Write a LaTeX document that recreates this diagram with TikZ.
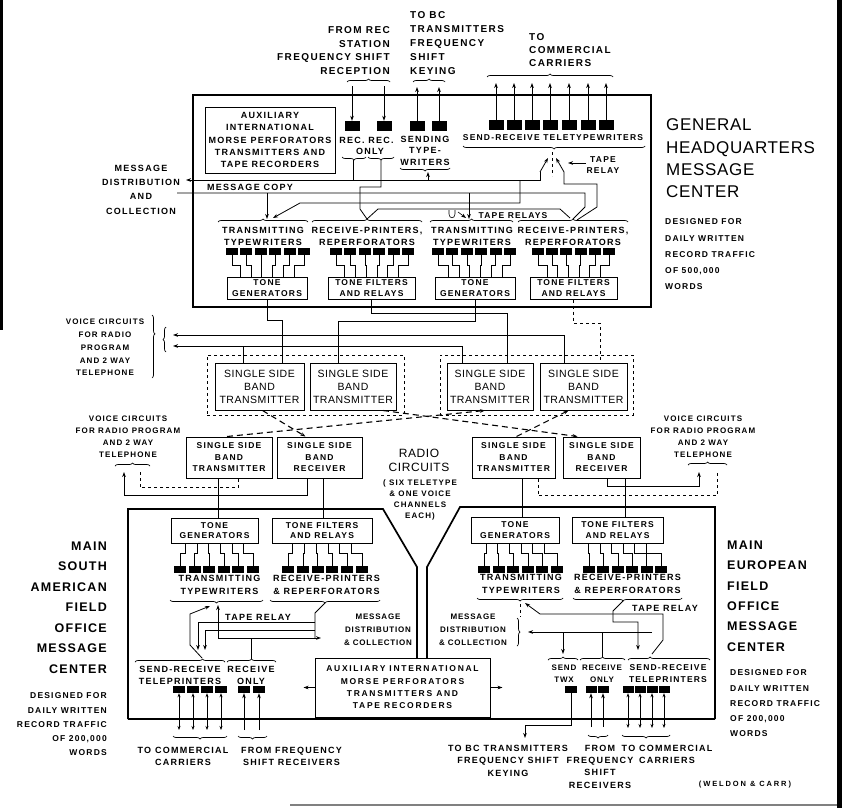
\documentclass[tikz,border=0pt]{standalone}
\usepackage{fontspec}
\setmainfont{Liberation Sans}
\newfontfamily\fa[LetterSpace=10]{Liberation Sans}
\newfontfamily\fb[LetterSpace=4]{Liberation Sans}
\newfontfamily\fc[LetterSpace=14]{Liberation Sans}
\newfontfamily\fd[LetterSpace=5]{Liberation Sans}
\newfontfamily\fe[LetterSpace=25]{Liberation Sans}
\newfontfamily\ff[LetterSpace=20]{Liberation Sans}
\newcommand\fsz[2]{\fontsize{#1}{#2}\selectfont}
\usetikzlibrary{decorations.pathreplacing,arrows.meta,calc}
\tikzset{
  lb/.style={inner sep=0pt, align=center, font=\fc\bfseries\fsz{9}{12}},
  bigo/.style={draw, line width=1.7pt},
  box/.style={draw, line width=1pt, inner sep=0pt, align=center},
  tbox/.style={box, font=\fc\bfseries\fsz{8.5}{10.5}},
  blk/.style={fill=black, inner sep=0pt, minimum width=12pt, minimum height=7pt},
  blkb/.style={fill=black, inner sep=0pt, minimum width=15pt, minimum height=10pt},
  wr/.style={line width=0.8pt},
  tw/.style={line width=0.6pt},
  arw/.style={->, >={Stealth[length=5pt,width=3.6pt]}},
  arwb/.style={<->, >={Stealth[length=4pt,width=3pt]}},
  brc/.style={decorate, decoration={brace, amplitude=3pt, aspect=#1}, line width=0.7pt},
  brc/.default=0.5,
  rdash/.style={line width=1.1pt, dash pattern=on 6pt off 4pt},
}
\begin{document}
\begin{tikzpicture}[x=1pt,y=-1pt]
\useasboundingbox (0,0) rectangle (843,808);
% scan borders
\fill (837,0) rectangle (842,808);
\fill (0,0) rectangle (3,330);
\draw[gray, line width=2pt] (290,805) -- (837,805);

% ================= HEADQUARTERS =================
\node[bigo, minimum width=458pt, minimum height=212pt, inner sep=0pt] (hq) at (422,201) {};
\node[box, minimum width=130pt, minimum height=66pt, font=\fc\bfseries\fsz{9}{12.3}] (auxh) at (270,140)
  {AUXILIARY\\INTERNATIONAL\\MORSE PERFORATORS\\TRANSMITTERS AND\\TAPE RECORDERS};

% top labels
\node[inner sep=0pt, anchor=east, align=right, font=\fc\bfseries\fsz{10}{13.7}] (lfrom) at (390,50.5)
  {FROM REC\\STATION\\FREQUENCY SHIFT\\RECEPTION};
\node[inner sep=0pt, anchor=west, align=left, font=\fc\bfseries\fsz{10}{14}] (ltobc) at (410,43)
  {TO BC\\TRANSMITTERS\\FREQUENCY\\SHIFT\\KEYING};
\node[inner sep=0pt, anchor=west, align=left, font=\fc\bfseries\fsz{10}{13}] (ltocom) at (529,50)
  {TO\\COMMERCIAL\\CARRIERS};
\draw[brc] (347,82) -- (390,82);
\draw[brc] (413,82) -- (445,82);
\draw[brc] (487,77) -- (613,77);

% top blocks
\node[blkb] (rc1) at (352,126) {};
\node[blkb] (rc2) at (384,126) {};
\node[blkb] (sd1) at (417,126) {};
\node[blkb] (sd2) at (439,126) {};
\draw[wr, arw] (352,86) -- (rc1.north);
\draw[wr, arw] (384,86) -- (rc2.north);
\draw[wr, arw] (sd1.north) -- (417,87);
\draw[wr, arw] (sd2.north) -- (439,87);
\foreach \x [count=\i] in {496,514,532,550,569,588,606}{
  \node[blkb] (st\i) at (\x,125) {};
  \draw[wr, arw] (st\i.north) -- (\x,83);
}
\node[lb] (lrec1) at (352,140) {REC.};
\node[lb] (lrec2) at (381,140) {REC.};
\node[lb] (lonly) at (370,151) {ONLY};
\draw[brc] (366,157) -- (342,157);
\draw[brc] (394,157) -- (368,157);
\node[lb, font=\fc\bfseries\fsz{9}{11.5}] (lsend) at (425,150.5) {SENDING\\TYPE-\\WRITERS};
\draw[brc] (450,168) -- (400,168);
\node[lb, font=\fc\bfseries\fsz{8.5}{12}] (lsrt) at (553,138) {SEND-RECEIVE TELETYPEWRITERS};
\draw[brc] (645,146) -- (463,146);

% left label
\node[lb, font=\fc\bfseries\fsz{9}{14.3}] (lmdh) at (141,189.5) {MESSAGE\\DISTRIBUTION\\AND\\COLLECTION};
\node[lb] (lcopy) at (250,187) {MESSAGE COPY};

% HQ wiring
\draw[wr] (353,160) -- (353,180);
\draw[wr] (381,160) -- (381,187) -- (360,187) -- (360,209) -- (367,219);
\draw[wr, arw] (540,172) -- (540,180) -- (186,180);
\draw[wr] (177,193) -- (585,193) -- (585,207) -- (573,219);
\draw[wr, arw] (267,193) -- (267,219);
\draw[wr, arw] (520,180) -- (520,203) -- (300,203) -- (273,218);
\draw[wr] (367,219) -- (378,209) -- (560,209) -- (570,218);
\draw[wr, arw] (469,193) -- (469,219);
\draw[wr, arw] (428,180) -- (428,172);
\draw[wr, arw] (540,172) -- (548,158);
\draw[wr, arw] (564,172) -- (556,158);
\draw[wr, dashed] (552,152) -- (552,176);
\draw[wr] (564,172) -- (564,184) -- (597,184) -- (597,207) -- (577,220);
\node[lb, font=\fc\bfseries\fsz{8.5}{10.5}] (ltrh) at (603,165) {TAPE\\RELAY};
\draw[wr, arw] (586,163) -- (568,163);
\node[lb, font=\fc\bfseries\fsz{8.5}{12}] (ltrs) at (513,216) {TAPE RELAYS};
\draw[tw] (449,210) -- (449,214) .. controls (449,219) and (455,219) .. (455,214) -- (455,210);
\draw[tw, arw] (458,212) -- (466,218);

% HQ groups
\draw[brc] (218,222) -- (308,222);
\node[lb] (ltt1) at (263,236) {TRANSMITTING\\TYPEWRITERS};
\node[tbox, minimum width=80pt, minimum height=22pt] (tg1) at (267,288) {TONE\\GENERATORS};
\foreach \i in {0,...,5}{
  \pgfmathsetmacro\xs{232+14.4*\i}
  \pgfmathsetmacro\xb{267+(\xs-268)*0.75}
  \node[blk] (ha\i) at (\xs,251.5) {};
  \draw[tw] (ha\i.south) -- (\xs,265) -- (\xb,265) -- (\xb,277);
}
\draw[brc] (312,222) -- (422,222);
\node[lb] (lrp2) at (367,236) {RECEIVE-PRINTERS,\\REPERFORATORS};
\node[tbox, minimum width=87pt, minimum height=22pt] (tf2) at (371.5,288) {TONE FILTERS\\AND RELAYS};
\foreach \i in {0,...,5}{
  \pgfmathsetmacro\xs{336+14.4*\i}
  \pgfmathsetmacro\xb{371.5+(\xs-372)*0.75}
  \node[blk] (hb\i) at (\xs,251.5) {};
  \draw[tw] (hb\i.south) -- (\xs,265) -- (\xb,265) -- (\xb,277);
}
\draw[brc] (430,222) -- (513,222);
\node[lb] (ltt3) at (472,236) {TRANSMITTING\\TYPEWRITERS};
\node[tbox, minimum width=80pt, minimum height=22pt] (tg3) at (475,288) {TONE\\GENERATORS};
\foreach \i in {0,...,5}{
  \pgfmathsetmacro\xs{438+14.4*\i}
  \pgfmathsetmacro\xb{475+(\xs-474)*0.75}
  \node[blk] (hc\i) at (\xs,251.5) {};
  \draw[tw] (hc\i.south) -- (\xs,265) -- (\xb,265) -- (\xb,277);
}
\draw[brc] (518,222) -- (628,222);
\node[lb] (lrp4) at (573,236) {RECEIVE-PRINTERS,\\REPERFORATORS};
\node[tbox, minimum width=87pt, minimum height=22pt] (tf4) at (573.5,288) {TONE FILTERS\\AND RELAYS};
\foreach \i in {0,...,5}{
  \pgfmathsetmacro\xs{538+14.2*\i}
  \pgfmathsetmacro\xb{573.5+(\xs-573.5)*0.75}
  \node[blk] (hd\i) at (\xs,251.5) {};
  \draw[tw] (hd\i.south) -- (\xs,265) -- (\xb,265) -- (\xb,277);
}

% HQ headings
\node[inner sep=0pt, anchor=west, align=left, font=\fb\fsz{17}{22.3}] (hqt) at (666,158.5)
  {GENERAL\\HEADQUARTERS\\MESSAGE\\CENTER};
\node[inner sep=0pt, anchor=west, align=left, font=\fc\bfseries\fsz{8.5}{16.25}] (hqd) at (665,254.5)
  {DESIGNED FOR\\DAILY WRITTEN\\RECORD TRAFFIC\\OF 500,000\\WORDS};

% ================= UPPER TRANSMITTERS =================
\node[draw, dashed, line width=0.8pt, inner sep=0pt, minimum width=197pt, minimum height=60pt] (encl) at (305.5,385) {};
\node[draw, dashed, line width=0.8pt, inner sep=0pt, minimum width=193pt, minimum height=60pt] (encr) at (536.5,385) {};
\node[box, minimum width=89pt, minimum height=47pt, font=\fd\fsz{10.5}{13}] (tx1) at (259.5,386.5) {SINGLE SIDE\\BAND\\TRANSMITTER};
\node[box, minimum width=86pt, minimum height=47pt, font=\fd\fsz{10.5}{13}] (tx2) at (353,386.5) {SINGLE SIDE\\BAND\\TRANSMITTER};
\node[box, minimum width=86pt, minimum height=47pt, font=\fd\fsz{10.5}{13}] (tx3) at (490,386.5) {SINGLE SIDE\\BAND\\TRANSMITTER};
\node[box, minimum width=87pt, minimum height=47pt, font=\fd\fsz{10.5}{13}] (tx4) at (583.5,386.5) {SINGLE SIDE\\BAND\\TRANSMITTER};

\draw[wr] (tg1.south) -- (267,320) -- (282,320) -- (282,363);
\draw[wr] (tf2.south) -- (371.5,313) -- (507,313) -- (507,363);
\draw[wr] (tg3.south) -- (475,321) -- (338,321) -- (338,363);
\draw[wr, dashed] (tf4.south) -- (573.5,323) -- (600,323) -- (600,363);
\draw[wr, arw] (564,363) -- (564,335) -- (173,335);
\draw[wr, arw] (462,363) -- (462,346) -- (173,346);
\draw[wr] (243,346) -- (243,363);

\node[lb, font=\fc\bfseries\fsz{8}{12.75}] (lvt) at (105,347.5) {VOICE CIRCUITS\\FOR RADIO\\PROGRAM\\AND 2 WAY\\TELEPHONE};
\draw[brc=0.3] (152,315) -- (152,378);
\draw[brc] (166,352) -- (166,327);

% ================= LOWER SSB =================
\node[box, minimum width=86pt, minimum height=41pt, font=\fc\bfseries\fsz{8.5}{11.5}] (ltx) at (229,457.5) {SINGLE SIDE\\BAND\\TRANSMITTER};
\node[box, minimum width=85pt, minimum height=41pt, font=\fc\bfseries\fsz{8.5}{11.5}] (lrx) at (319.5,457.5) {SINGLE SIDE\\BAND\\RECEIVER};
\node[box, minimum width=83pt, minimum height=41pt, font=\fc\bfseries\fsz{8.5}{11.5}] (rtx) at (513.5,457.5) {SINGLE SIDE\\BAND\\TRANSMITTER};
\node[box, minimum width=77pt, minimum height=41pt, font=\fc\bfseries\fsz{8.5}{11.5}] (rrx) at (601.5,457.5) {SINGLE SIDE\\BAND\\RECEIVER};

\draw[rdash, arw] ($(tx1.south)+(3,0)$) -- ($(lrx.north)+(-14,0)$);
\draw[rdash, arw] ($(tx2.south)+(30,0)$) -- ($(rrx.north)+(-24,0)$);
\draw[rdash, arw] ($(ltx.north)+(-2,0)$) -- ($(tx3.south)+(-5,0)$);
\draw[rdash, arw] ($(rtx.north)+(3,0)$) -- ($(tx4.south)+(-15,0)$);

\node[lb, font=\fd\fsz{12}{14}] (lrad) at (419,460) {RADIO\\CIRCUITS};
\node[lb, font=\fc\bfseries\fsz{8}{11}] (lrad2) at (420,499.5) {( SIX TELETYPE\\\& ONE VOICE\\CHANNELS\\EACH)};

% voice lower-left
\node[lb, font=\fc\bfseries\fsz{8}{12}] (lvl) at (128,437) {VOICE CIRCUITS\\FOR RADIO PROGRAM\\AND 2 WAY\\TELEPHONE};
\draw[brc] (115,466) -- (150,466);
\draw[wr, arw] ($(lrx.south)+(-12,0)$) -- ++(0,17) -| (124,472);
\draw[wr, dashed] ($(ltx.south)+(9,0)$) -- ++(0,9) -| (140,472);
% voice lower-right
\node[lb, font=\fc\bfseries\fsz{8}{12}] (lvr) at (703,437) {VOICE CIRCUITS\\FOR RADIO PROGRAM\\AND 2 WAY\\TELEPHONE};
\draw[brc] (688,465) -- (727,465);
\draw[wr, arw] ($(rrx.south)+(5.5,0)$) -- ++(0,8) -| (699,472);
\draw[wr, dashed] ($(rtx.south)+(24.5,0)$) -- ++(0,17) -| (717,472);

% ================= FIELD OFFICES OUTLINE =================
\draw[bigo] (128,719) -- (128,509) -- (383,509) -- (417,567) -- (417,658);
\draw[bigo] (715,719) -- (715,507) -- (460,507) -- (427,567) -- (427,658);
\draw[bigo] (128,719) -- (715,719);

% ================= SOUTH AMERICAN =================
\node[tbox, minimum width=87pt, minimum height=25pt] (tgl) at (214.5,530.5) {TONE\\GENERATORS};
\node[tbox, minimum width=100pt, minimum height=25pt] (tfl) at (322,530.5) {TONE FILTERS\\AND RELAYS};
\draw[wr] ($(ltx.south)+(-11,0)$) -- ($(tgl.north)+(3.5,0)$);
\draw[wr] ($(lrx.south)+(3.5,0)$) -- ($(tfl.north)+(1,0)$);
\foreach \i in {0,...,5}{
  \pgfmathsetmacro\xs{180+14.6*\i}
  \pgfmathsetmacro\xb{214.5+(\xs-216.5)*0.8}
  \node[blk] (la\i) at (\xs,569.5) {};
  \draw[tw] (\xb,543) -- (\xb,553) -- (\xs,553) -- (la\i.north);
}
\foreach \i in {0,...,5}{
  \pgfmathsetmacro\xs{288+14.8*\i}
  \pgfmathsetmacro\xb{322+(\xs-325)*0.8}
  \node[blk] (lb\i) at (\xs,569.5) {};
  \draw[tw] (\xb,543) -- (\xb,553) -- (\xs,553) -- (lb\i.north);
}
\node[lb, font=\fc\bfseries\fsz{9}{12.5}] (lttl) at (219.5,585) {TRANSMITTING\\TYPEWRITERS};
\node[lb, font=\fc\bfseries\fsz{9}{12.5}] (lrpl) at (326.5,585) {RECEIVE-PRINTERS\\\& REPERFORATORS};
\draw[brc] (263,600) -- (170,600);
\draw[brc] (380,600) -- (270,600);
\node[lb] (ltrl) at (258,617) {TAPE RELAY};
\node[lb, font=\fa\bfseries\fsz{8}{13}] (lmdl) at (378,630) {MESSAGE\\DISTRIBUTION\\\& COLLECTION};

\draw[wr] (325,603) -- (315,613) -- (315,638);
\draw[wr, arw] (315,622) -- (198,622) -- (198,650);
\draw[wr, arw] (315,630) -- (205,630) -- (205,650);
\draw[wr, arw] (218,638) -- (218,605);
\draw[wr, arw] (218,638) -- (321,638);
\draw[wr, arw] (190,645) -- (190,614) -- (210,606);
\draw[wr] (190,645) -- (202,658);
\draw[wr] (251.5,659) -- (251.5,638);

\node[lb] (lsrl) at (180,675) {SEND-RECEIVE\\TELEPRINTERS};
\node[lb] (lrol) at (251,675) {RECEIVE\\ONLY};
\draw[brc=0.75] (135,662) -- (225,662);
\draw[brc] (227,662) -- (276,662);
\foreach \i in {0,...,3}{
  \pgfmathsetmacro\xs{179+14*\i}
  \node[blk] (sl\i) at (\xs,689.5) {};
  \draw[wr, arwb] (sl\i.south) -- (\xs,730);
}
\node[blk] (rl1) at (244,689.5) {};
\node[blk] (rl2) at (259,689.5) {};
\draw[wr, arw] (244,730) -- (rl1.south);
\draw[wr, arw] (259,730) -- (rl2.south);
\draw[brc] (227,736) -- (173,736);
\draw[brc] (267,736) -- (238,736);
\node[lb] (ltcl) at (183,756) {TO COMMERCIAL\\CARRIERS};
\node[lb] (lffl) at (291.5,756) {FROM FREQUENCY\\SHIFT RECEIVERS};

\node[box, minimum width=175pt, minimum height=59pt, font=\ff\bfseries\fsz{8.5}{12.3}] (auxl) at (402.5,687.5)
  {AUXILIARY INTERNATIONAL\\MORSE PERFORATORS\\TRANSMITTERS AND\\TAPE RECORDERS};
\draw[wr, arw] (auxl.west) -- ++(-11,0);
\draw[wr, arw] (auxl.east) -- ++(12,0);

\node[inner sep=0pt, anchor=east, align=right, font=\fa\bfseries\fsz{12.5}{20.5}] (lsa) at (107,607.5)
  {MAIN\\SOUTH\\AMERICAN\\FIELD\\OFFICE\\MESSAGE\\CENTER};
\node[inner sep=0pt, anchor=east, align=right, font=\fc\bfseries\fsz{8.5}{14.25}] (lsad) at (107,724.5)
  {DESIGNED FOR\\DAILY WRITTEN\\RECORD TRAFFIC\\OF 200,000\\WORDS};

% ================= EUROPEAN =================
\node[tbox, minimum width=88pt, minimum height=26pt] (tgr) at (515,530) {TONE\\GENERATORS};
\node[tbox, minimum width=91pt, minimum height=26pt] (tfr) at (617.5,530) {TONE FILTERS\\AND RELAYS};
\draw[wr] ($(rtx.south)+(8.5,0)$) -- ($(tgr.north)+(7,0)$);
\draw[wr] ($(rrx.south)+(23.5,0)$) -- ($(tfr.north)+(7.5,0)$);
\foreach \i in {0,...,5}{
  \pgfmathsetmacro\xs{484+14.6*\i}
  \pgfmathsetmacro\xb{515+(\xs-520.5)*0.8}
  \node[blk] (ra\i) at (\xs,569.5) {};
  \draw[tw] (\xb,543) -- (\xb,553) -- (\xs,553) -- (ra\i.north);
}
\foreach \i in {0,...,5}{
  \pgfmathsetmacro\xs{589+14.4*\i}
  \pgfmathsetmacro\xb{617.5+(\xs-625)*0.8}
  \node[blk] (rb\i) at (\xs,569.5) {};
  \draw[tw] (\xb,543) -- (\xb,553) -- (\xs,553) -- (rb\i.north);
}
\node[lb, font=\fc\bfseries\fsz{9}{12.5}] (lttr) at (521,584) {TRANSMITTING\\TYPEWRITERS};
\node[lb, font=\fc\bfseries\fsz{9}{12.5}] (lrpr) at (627.5,584) {RECEIVE-PRINTERS\\\& REPERFORATORS};
\draw[brc] (563,598) -- (477,598);
\draw[brc=0.54] (682,598) -- (573,598);
\node[lb] (ltrr) at (665,608) {TAPE RELAY};
\node[lb, font=\fa\bfseries\fsz{8}{13}] (lmdr) at (473,630) {MESSAGE\\DISTRIBUTION\\\& COLLECTION};
\draw[brc] (517,618) -- (517,646);

\draw[wr, arw] (540,614) -- (525,603);
\draw[wr] (540,614) -- (663,614) -- (663,640) -- (652,654);
\draw[wr, arw] (623,601) -- (613,611) -- (613,622) -- (638,622) -- (638,650);
\draw[wr, arw] (652,632) -- (528,632);
\draw[wr, arw] (563,632) -- (563,654);
\draw[wr] (602,632) -- (602,657);
\draw[wr, dashed] (520,604) -- (520,617);

\node[lb, font=\fa\bfseries\fsz{8}{12}] (ltwx) at (564,674) {SEND\\TWX};
\node[lb, font=\fa\bfseries\fsz{8}{12}] (lror) at (602,674) {RECEIVE\\ONLY};
\node[lb, font=\fc\bfseries\fsz{8.5}{12}] (lsrr) at (668,674) {SEND-RECEIVE\\TELEPRINTERS};
\draw[brc] (548,660) -- (578,660);
\draw[brc] (580,660) -- (625,660);
\draw[brc=0.27] (628,660) -- (710,660);
\node[blk] (twx) at (571,689.5) {};
\node[blk, minimum width=11pt] (ro1) at (591,689.5) {};
\node[blk, minimum width=11pt] (ro2) at (603,689.5) {};
\draw[wr, arw] (twx.south) -- (571,725) -- (525,725) -- (525,738);
\draw[wr, arw] (591,727) -- (ro1.south);
\draw[wr, arw] (603,727) -- (ro2.south);
\foreach \x [count=\i] in {628,640,652,664}{
  \node[blk, minimum width=11pt] (sr\i) at (\x,689.5) {};
  \draw[wr, arwb] (sr\i.south) -- (\x,728);
}
\draw[brc] (608,735) -- (588,735);
\draw[brc] (670,735) -- (622,735);
\node[lb, font=\fc\bfseries\fsz{9}{12.5}] (ltbr) at (508,760.5) {TO BC TRANSMITTERS\\FREQUENCY SHIFT\\KEYING};
\node[lb, font=\fc\bfseries\fsz{9}{12.3}] (lffr) at (600,766.5) {FROM\\FREQUENCY\\SHIFT\\RECEIVERS};
\node[lb] (ltcr) at (667,754.5) {TO COMMERCIAL\\CARRIERS};

\node[inner sep=0pt, anchor=west, align=left, font=\fa\bfseries\fsz{12.5}{20.4}] (leu) at (727,596)
  {MAIN\\EUROPEAN\\FIELD\\OFFICE\\MESSAGE\\CENTER};
\node[inner sep=0pt, anchor=west, align=left, font=\fc\bfseries\fsz{8.5}{15.25}] (leud) at (730,703.5)
  {DESIGNED FOR\\DAILY WRITTEN\\RECORD TRAFFIC\\OF 200,000\\WORDS};
\node[inner sep=0pt, font=\fe\bfseries\fsz{7.5}{9}] (weld) at (745,785) {(WELDON \& CARR)};
\end{tikzpicture}
\end{document}
